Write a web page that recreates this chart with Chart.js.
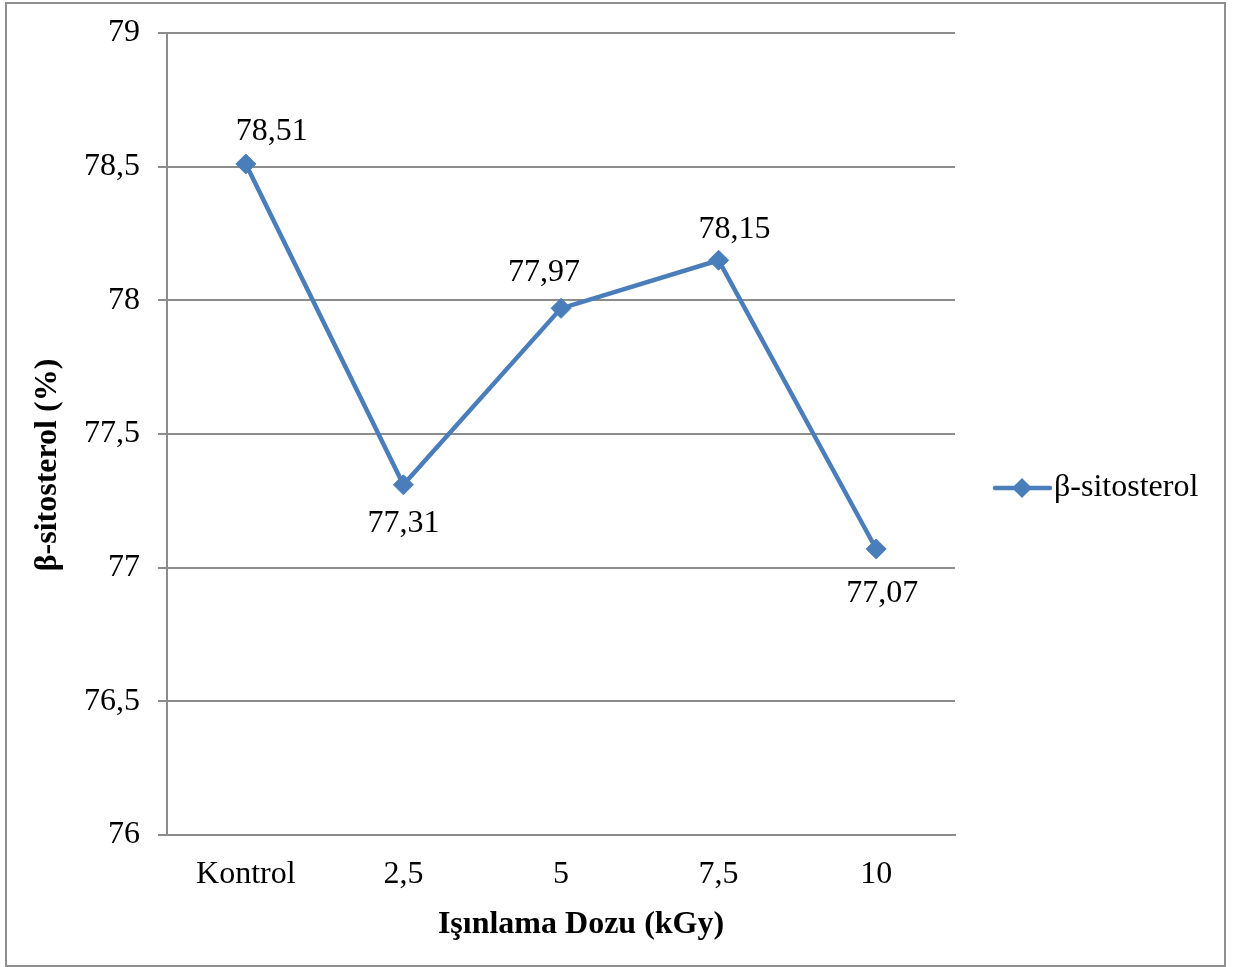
<!DOCTYPE html>
<html>
<head>
<meta charset="utf-8">
<script src="https://cdn.jsdelivr.net/npm/chart.js@4/dist/chart.umd.min.js"></script>
<style>
  html, body { margin: 0; padding: 0; background: #ffffff; }
  #wrap { position: relative; width: 1238px; height: 967px; }
  canvas { display: block; }
</style>
</head>
<body>
<div id="wrap"><canvas id="c" width="1238" height="967"></canvas></div>
<script>
// Irradiation dose categories and β-sitosterol content (%)
const doses = ['Kontrol', '2,5', '5', '7,5', '10'];
const sitosterol = [78.51, 77.31, 77.97, 78.15, 77.07];
const seriesName = 'β-sitosterol';
const yTicks = [76, 76.5, 77, 77.5, 78, 78.5, 79];
const yTitle = 'β-sitosterol (%)';
const xTitle = 'Işınlama Dozu (kGy)';

const FONT = '"Liberation Serif", "Times New Roman", serif';
const FS = 32;
const BLUE = '#4A7EBB';
const GRID = '#8c8c8c';

// Per-point placement of the value labels (dx, dy from the marker)
const labelOffsets = [[26, -32], [0, 39], [-17, -36], [16, -31], [6, 45]];

const fmt = v => String(v).replace('.', ',');

const valueLabels = {
  id: 'valueLabels',
  afterDatasetsDraw(chart) {
    const ctx = chart.ctx;
    const meta = chart.getDatasetMeta(0);
    ctx.save();
    ctx.font = FS + 'px ' + FONT;
    ctx.fillStyle = '#000';
    ctx.textAlign = 'center';
    ctx.textBaseline = 'middle';
    meta.data.forEach((pt, i) => {
      const [dx, dy] = labelOffsets[i];
      ctx.fillText(fmt(chart.data.datasets[0].data[i]), pt.x + dx, pt.y + dy);
    });
    ctx.restore();
  }
};

// Axis titles, line-and-marker legend, and the outer frame
const decorations = {
  id: 'decorations',
  afterDraw(chart) {
    const ctx = chart.ctx;
    const ds = chart.data.datasets[0];
    const area = chart.chartArea;
    ctx.save();
    ctx.font = 'bold ' + FS + 'px ' + FONT;
    ctx.fillStyle = '#000';
    ctx.textAlign = 'center';
    ctx.textBaseline = 'middle';

    // x-axis title
    ctx.fillText(xTitle, area.left + (area.right - area.left) / 2 + 20, 925);

    // y-axis title
    ctx.save();
    ctx.translate(48, 465);
    ctx.rotate(-Math.PI / 2);
    ctx.fillText(yTitle, 0, 0);
    ctx.restore();

    // legend
    const x0 = area.right + 40;
    const y = 488;
    ctx.strokeStyle = ds.borderColor;
    ctx.lineWidth = ds.borderWidth;
    ctx.lineCap = 'round';
    ctx.beginPath();
    ctx.moveTo(x0, y);
    ctx.lineTo(x0 + 55, y);
    ctx.stroke();
    ctx.fillStyle = ds.pointBackgroundColor;
    const r = 10;
    const cx = x0 + 27;
    ctx.beginPath();
    ctx.moveTo(cx, y - r);
    ctx.lineTo(cx + r, y);
    ctx.lineTo(cx, y + r);
    ctx.lineTo(cx - r, y);
    ctx.closePath();
    ctx.fill();
    ctx.font = FS + 'px ' + FONT;
    ctx.fillStyle = '#000';
    ctx.textAlign = 'left';
    ctx.fillText(ds.label, x0 + 59, y);

    // outer frame
    ctx.strokeStyle = '#8f8f8f';
    ctx.lineWidth = 2;
    ctx.strokeRect(6, 3, 1219, 963);
    ctx.restore();
  }
};

new Chart(document.getElementById('c'), {
  type: 'line',
  data: {
    labels: doses,
    datasets: [{
      label: seriesName,
      data: sitosterol,
      borderColor: BLUE,
      backgroundColor: BLUE,
      pointBackgroundColor: BLUE,
      pointBorderColor: BLUE,
      borderWidth: 4.5,
      pointStyle: 'rectRot',
      pointRadius: 10,
      pointBorderWidth: 1,
      tension: 0,
      fill: false
    }]
  },
  options: {
    responsive: false,
    animation: false,
    devicePixelRatio: 1,
    layout: { padding: { left: 0, top: 33, right: 283, bottom: 0 } },
    plugins: {
      legend: { display: false },
      tooltip: { enabled: false }
    },
    scales: {
      x: {
        offset: true,
        grid: { display: false, drawTicks: false },
        border: { display: true, color: GRID, width: 2 },
        ticks: { color: '#000', font: { family: FONT, size: FS }, padding: 20 },
        afterFit(scale) {
          scale.height = 132;
          scale.paddingLeft = 0;
          scale.paddingRight = 0;
        }
      },
      y: {
        min: 76,
        max: 79,
        afterBuildTicks(scale) { scale.ticks = yTicks.map(v => ({ value: v })); },
        grid: { color: GRID, lineWidth: 2, tickLength: 9, drawTicks: true },
        border: { display: true, color: GRID, width: 2 },
        ticks: {
          color: '#000',
          font: { family: FONT, size: FS },
          padding: 18,
          callback: v => fmt(v)
        },
        afterFit(scale) {
          scale.width = 167;
          scale.paddingTop = 0;
          scale.paddingBottom = 0;
        }
      }
    }
  },
  plugins: [valueLabels, decorations]
});
</script>
</body>
</html>
